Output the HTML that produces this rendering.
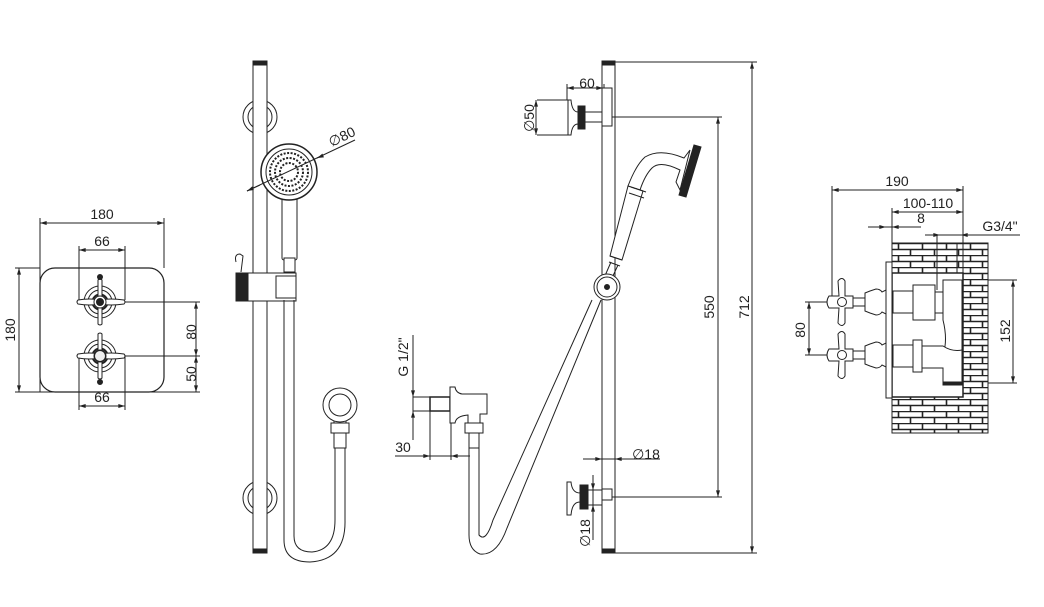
<!DOCTYPE html>
<html><head><meta charset="utf-8"><style>
html,body{margin:0;padding:0;background:#fff;}
svg{display:block;}
text{font-family:"Liberation Sans",sans-serif;font-size:14px;fill:#222;}
</style></head><body>
<svg width="1044" height="607" viewBox="0 0 1044 607" xmlns="http://www.w3.org/2000/svg">
<defs>
<marker id="a" viewBox="0 0 10 6" refX="10" refY="3" markerWidth="8" markerHeight="4" orient="auto-start-reverse"><path d="M0,0L10,3L0,6z" fill="#222"/></marker>
<pattern id="brick" x="892" y="243" width="24" height="12" patternUnits="userSpaceOnUse">
<rect width="24" height="12" fill="#fff"/>
<path d="M0,0.5H24M0,6.5H24M6.5,0.5V6.5M18.5,6.5V12.5" stroke="#222" stroke-width="1.6" fill="none"/>
</pattern>
</defs>
<g fill="none" stroke="#222" stroke-width="1">

<!-- VIEW 1 -->
<rect x="40" y="268" width="124" height="124" rx="15" stroke-width="1.2"/>
<line x1="40" y1="223" x2="164" y2="223" marker-start="url(#a)" marker-end="url(#a)"/>
<line x1="40" y1="218" x2="40" y2="392"/><line x1="164" y1="218" x2="164" y2="268"/>
<line x1="79" y1="250" x2="125" y2="250" marker-start="url(#a)" marker-end="url(#a)"/>
<line x1="79" y1="246" x2="79" y2="300"/><line x1="125" y1="246" x2="125" y2="300"/>
<line x1="79" y1="406" x2="125" y2="406" marker-start="url(#a)" marker-end="url(#a)"/>
<line x1="79" y1="356" x2="79" y2="410"/><line x1="125" y1="356" x2="125" y2="410"/>
<line x1="19" y1="268" x2="19" y2="392" marker-start="url(#a)" marker-end="url(#a)"/>
<line x1="15" y1="268" x2="40" y2="268"/><line x1="15" y1="392" x2="200" y2="392"/>
<line x1="196" y1="302" x2="196" y2="356" marker-start="url(#a)" marker-end="url(#a)"/>
<line x1="196" y1="356" x2="196" y2="392" marker-start="url(#a)" marker-end="url(#a)"/>
<line x1="122" y1="302" x2="200" y2="302"/><line x1="122" y1="356" x2="200" y2="356"/>
<g id="k1">
<circle cx="100" cy="302" r="16"/><circle cx="100" cy="302" r="12"/><circle cx="100" cy="302" r="7.5" stroke-width="2"/>
<path d="M78,300 Q90,298 100,300 Q110,298 124,300 Q126,302 124,304 Q110,306 100,304 Q90,306 78,304 Q76,302 78,300z" fill="#fff"/>
<path d="M98,280 Q100,278 102,280 L102,324 Q100,326 98,324z" fill="#fff"/>
<circle cx="100" cy="302" r="6" fill="#fff"/>
</g>
<circle cx="100" cy="277" r="2.5" fill="#222"/>
<circle cx="100" cy="302" r="3.5" fill="#222"/>
<use href="#k1" y="54"/>
<circle cx="100" cy="382" r="2.5" fill="#222"/>
<circle cx="100" cy="356" r="5.5" fill="#eee"/>

<!-- VIEW 2 -->
<circle cx="260" cy="117" r="17"/><circle cx="260" cy="117" r="12"/>
<circle cx="260" cy="498" r="17"/><circle cx="260" cy="498" r="12"/>
<rect x="253" y="62" width="14" height="490" fill="#fff"/>
<rect x="253" y="61" width="14" height="4" fill="#222"/>
<rect x="253" y="549" width="14" height="4" fill="#222"/>
<!-- head -->
<rect x="282" y="198" width="15" height="62" rx="2" fill="#fff"/>
<rect x="284" y="258" width="11" height="14" fill="#fff"/>
<circle cx="289" cy="172" r="28" fill="#fff" stroke-width="1.5"/>
<circle cx="289" cy="172" r="23"/>
<circle cx="289" cy="172" r="19" stroke-dasharray="2 1.5" stroke-width="2"/>
<circle cx="289" cy="172" r="14" stroke-dasharray="2 1.5" stroke-width="2"/>
<circle cx="289" cy="172" r="9" stroke-dasharray="2 1.5" stroke-width="2"/>
<line x1="247" y1="191" x2="355" y2="140"/>
<line x1="260" y1="185" x2="247" y2="191" marker-end="url(#a)"/>
<line x1="322" y1="156" x2="317" y2="158" marker-end="url(#a)"/>
<!-- slider -->
<path d="M236,262 Q234,254 240,254 L243,256 L241,272" />
<rect x="236" y="273" width="60" height="28" fill="#fff"/>
<rect x="236" y="273" width="12" height="28" fill="#222"/>
<rect x="276" y="276" width="20" height="22" fill="#fff"/>
<!-- hose -->
<path d="M284,300 L284,540 Q284,562 310,562 Q346,560 345,520 L345,448"/>
<path d="M294,300 L294,536 Q294,552 312,552 Q335,550 335,520 L335,448"/>
<rect x="334" y="433" width="12" height="15" fill="#fff"/>
<rect x="331" y="423" width="18" height="10" fill="#fff"/>
<path d="M334,423 L334,415 L346,415 L346,423"/>
<circle cx="340" cy="405" r="17" fill="#fff"/><circle cx="340" cy="405" r="11"/>

<!-- VIEW 3 -->
<rect x="602" y="62" width="13" height="490"/>
<rect x="602" y="61" width="13" height="4" fill="#222"/>
<rect x="602" y="549" width="13" height="4" fill="#222"/>
<line x1="615" y1="62" x2="757" y2="62"/><line x1="615" y1="553" x2="757" y2="553"/>
<line x1="752" y1="62" x2="752" y2="553" marker-start="url(#a)" marker-end="url(#a)"/>
<line x1="612" y1="117" x2="722" y2="117"/><line x1="612" y1="497" x2="722" y2="497"/>
<line x1="718" y1="117" x2="718" y2="497" marker-start="url(#a)" marker-end="url(#a)"/>
<!-- top bracket -->
<rect x="602" y="88" width="10" height="38" fill="#fff"/>
<rect x="585" y="112" width="17" height="10" fill="#fff"/>
<rect x="578" y="106" width="7" height="23" fill="#222"/>
<path d="M568,100 L571,100 Q572,112 578,112 L578,124 Q572,124 571,135 L568,135z" fill="#fff"/>
<line x1="537" y1="100" x2="568" y2="100"/><line x1="537" y1="135" x2="568" y2="135"/>
<line x1="567" y1="84" x2="567" y2="100"/><line x1="604" y1="84" x2="604" y2="88"/>
<line x1="567" y1="88" x2="603" y2="88" marker-start="url(#a)" marker-end="url(#a)"/>
<line x1="536" y1="100" x2="536" y2="135" marker-start="url(#a)" marker-end="url(#a)"/>
<!-- hand shower -->
<path d="M694,145 L701,147 L686,197 L679,195z" fill="#222"/>
<path d="M690,150 L680,190 L676,182 L680,170 Q660,160 652,168 Q645,175 640,190 L628,186 Q636,165 645,157 Q660,148 684,158z" fill="#fff"/>
<path d="M628,186 L643,191 L622,260 L610,256z" fill="#fff"/>
<line x1="631" y1="187" x2="646" y2="192"/><line x1="629" y1="193" x2="644" y2="198"/>
<line x1="610" y1="256" x2="622" y2="260"/><line x1="609" y1="262" x2="620" y2="266"/>
<path d="M611,262 L604,278 M618,265 L612,278"/>
<!-- hose -->
<path d="M601,300 L507,528 Q497,556 480,554 Q469,550 469,535 L469,448"/>
<path d="M592,300 L493,520 Q486,543 479,535 L479,448"/>
<circle cx="607" cy="287" r="13" fill="#fff"/><circle cx="607" cy="287" r="10"/>
<circle cx="607" cy="287" r="2.5" fill="#222"/>
<!-- outlet -->
<rect x="430" y="397" width="20" height="14" fill="#fff" stroke-width="1.5"/>
<path d="M450,387 L455,387 Q456,393 462,394 L487,394 L487,414 L480,414 L480,423 L468,423 L468,415 Q456,416 455,423 L450,423z" fill="#fff"/>
<rect x="465" y="423" width="18" height="10" fill="#fff"/>
<rect x="469" y="433" width="10" height="15" fill="#fff"/>
<line x1="413" y1="335" x2="413" y2="440"/>
<line x1="413" y1="397" x2="450" y2="397"/><line x1="413" y1="411" x2="430" y2="411"/>
<line x1="413" y1="385" x2="413" y2="397" marker-end="url(#a)"/>
<line x1="413" y1="423" x2="413" y2="411" marker-end="url(#a)"/>
<line x1="430" y1="411" x2="430" y2="460"/><line x1="451" y1="423" x2="451" y2="460"/>
<line x1="395" y1="456" x2="470" y2="456"/>
<line x1="418" y1="456" x2="430" y2="456" marker-end="url(#a)"/>
<line x1="462" y1="456" x2="451" y2="456" marker-end="url(#a)"/>
<!-- lower bracket -->
<rect x="602" y="489" width="10" height="11" fill="#fff"/>
<rect x="588" y="490" width="14" height="15" fill="#fff"/>
<rect x="580" y="485" width="8" height="24" fill="#222"/>
<path d="M567,482 L571,482 Q572,493 580,493 L580,502 Q572,502 571,515 L567,515z" fill="#fff"/>
<line x1="593" y1="475" x2="593" y2="540"/>
<line x1="593" y1="478" x2="593" y2="490" marker-end="url(#a)"/>
<line x1="593" y1="517" x2="593" y2="505" marker-end="url(#a)"/>
<line x1="583" y1="459" x2="660" y2="459"/>
<line x1="590" y1="459" x2="602" y2="459" marker-end="url(#a)"/>
<line x1="627" y1="459" x2="615" y2="459" marker-end="url(#a)"/>

<!-- VIEW 4 -->
<rect x="892" y="243" width="96" height="190" fill="url(#brick)" stroke="#222"/>
<rect x="892" y="273" width="71" height="124" fill="#fff" stroke-width="1.5"/>
<line x1="963" y1="243" x2="963" y2="273"/><line x1="957" y1="243" x2="957" y2="273"/>
<line x1="937" y1="235" x2="937" y2="290"/>
<rect x="886" y="262" width="6" height="136" fill="#fff"/>
<line x1="832" y1="186" x2="832" y2="300"/><line x1="963" y1="186" x2="963" y2="243"/><line x1="892" y1="208" x2="892" y2="243"/>
<line x1="832" y1="190" x2="963" y2="190" marker-start="url(#a)" marker-end="url(#a)"/>
<line x1="892" y1="212" x2="963" y2="212" marker-start="url(#a)" marker-end="url(#a)"/>
<line x1="868" y1="227" x2="921" y2="227"/>
<line x1="876" y1="227" x2="886" y2="227" marker-end="url(#a)"/>
<line x1="902" y1="227" x2="892" y2="227" marker-end="url(#a)"/>
<line x1="925" y1="235" x2="1020" y2="235"/>
<line x1="931" y1="235" x2="940" y2="235" marker-end="url(#a)"/>
<line x1="970" y1="235" x2="961" y2="235" marker-end="url(#a)"/>
<line x1="988" y1="280" x2="1017" y2="280"/><line x1="988" y1="383" x2="1017" y2="383"/>
<line x1="1013" y1="280" x2="1013" y2="383" marker-start="url(#a)" marker-end="url(#a)"/>
<line x1="805" y1="302" x2="840" y2="302"/><line x1="805" y1="355" x2="840" y2="355"/>
<line x1="809" y1="302" x2="809" y2="355" marker-start="url(#a)" marker-end="url(#a)"/>
<g id="v1">
<rect x="853" y="298" width="12" height="8" fill="#fff"/>
<path d="M865,293 L870,291 L876,289 Q880,289 882,292 L886,290 L886,314 L882,312 Q880,315 876,315 L870,313 L865,311z" fill="#fff"/>
<path d="M845,281 Q842,276 838,281 L839,296 L829,296 Q825,302 829,308 L839,308 L838,323 Q842,328 845,323 L845,308 L853,308 L853,296 L845,296z" fill="#fff"/>
<circle cx="842" cy="302" r="4.5" fill="#fff"/>
</g>
<use href="#v1" y="53"/>
<rect x="893" y="291" width="20" height="22" fill="#fff"/>
<rect x="913" y="285" width="22" height="35" fill="#fff"/>
<path d="M935,292 L945,292 Q955,295 955,302 Q952,312 945,313 L935,313z" fill="#fff"/>
<path d="M943,280 L962,280 L962,355 Q952,350 945,355 L943,355 Q948,340 943,320z" fill="#fff"/>
<rect x="893" y="345" width="20" height="22" fill="#fff"/>
<rect x="913" y="340" width="9" height="32" fill="#fff"/>
<path d="M922,346 L943,346 Q952,352 962,350 L962,385 L943,385 L943,368 L922,368z" fill="#fff"/>
<rect x="943" y="382" width="19" height="3" fill="#222"/>
</g>

<g>
<text x="102" y="219" text-anchor="middle">180</text>
<text x="102" y="246" text-anchor="middle">66</text>
<text x="102" y="402" text-anchor="middle">66</text>
<text transform="translate(15,330) rotate(-90)" text-anchor="middle">180</text>
<text transform="translate(196,332) rotate(-90)" text-anchor="middle">80</text>
<text transform="translate(196,374) rotate(-90)" text-anchor="middle">50</text>
<text transform="translate(344,141) rotate(-26)" text-anchor="middle">∅80</text>
<text x="587" y="88" text-anchor="middle">60</text>
<text transform="translate(534,118) rotate(-90)" text-anchor="middle">∅50</text>
<text transform="translate(714,307) rotate(-90)" text-anchor="middle">550</text>
<text transform="translate(749,307) rotate(-90)" text-anchor="middle">712</text>
<text transform="translate(408,357) rotate(-90)" text-anchor="middle">G 1/2"</text>
<text x="403" y="452" text-anchor="middle">30</text>
<text x="646" y="459" text-anchor="middle">∅18</text>
<text transform="translate(590,533) rotate(-90)" text-anchor="middle">∅18</text>
<text x="897" y="186" text-anchor="middle">190</text>
<text x="928" y="208" text-anchor="middle">100-110</text>
<text x="921" y="223" text-anchor="middle">8</text>
<text x="1000" y="231" text-anchor="middle">G3/4"</text>
<text transform="translate(1010,331) rotate(-90)" text-anchor="middle">152</text>
<text transform="translate(805,330) rotate(-90)" text-anchor="middle">80</text>
</g>
</svg>
</body></html>
